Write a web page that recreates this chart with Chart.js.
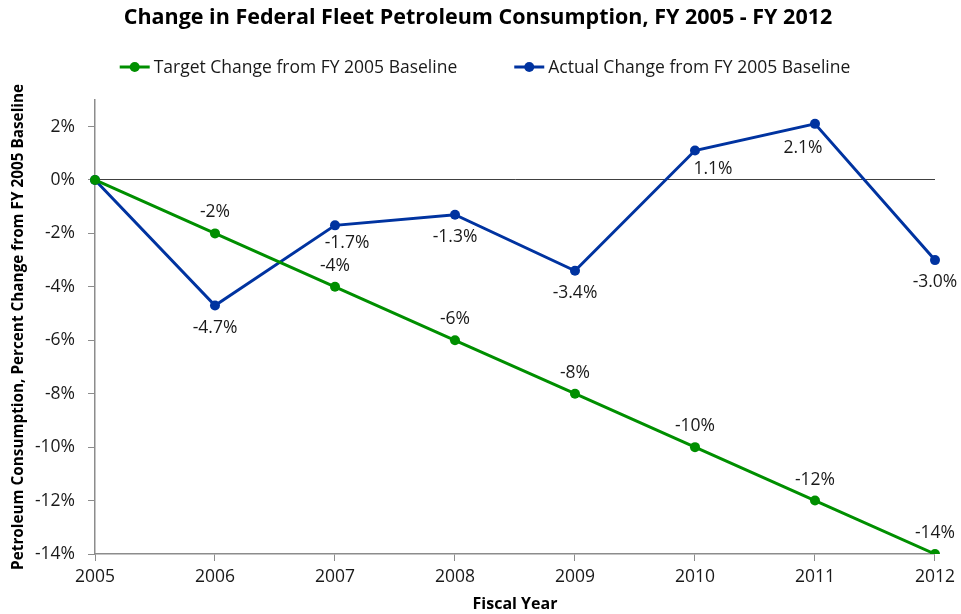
<!DOCTYPE html>
<html>
<head>
<meta charset="utf-8">
<script src="https://cdn.jsdelivr.net/npm/chart.js@4.4.0/dist/chart.umd.min.js"></script>
<style>
html, body { margin: 0; padding: 0; background: #fff; }
</style>
</head>
<body>
<canvas id="fleetChart" width="961" height="614"></canvas>
<script>
// data read from the FY 2005 - FY 2012 fleet chart
var years = ['2005', '2006', '2007', '2008', '2009', '2010', '2011', '2012'];
var targetChange = [0, -2, -4, -6, -8, -10, -12, -14];
var actualChange = [0, -4.7, -1.7, -1.3, -3.4, 1.1, 2.1, -3.0];
var yTicks = [-14, -12, -10, -8, -6, -4, -2, 0, 2];

var GREEN = '#008f00';
var BLUE = '#0033a0';
var FONT = "'Open Sans', 'DejaVu Sans', sans-serif";

// value labels next to each point (first point has none)
var pointLabels = {
    id: 'pointLabels',
    afterDatasetsDraw: function(chart) {
        var ctx = chart.ctx;
        ctx.save();
        ctx.font = '17.5px ' + FONT;
        ctx.fillStyle = '#1a1a1a';
        ctx.textAlign = 'center';
        ctx.textBaseline = 'middle';
        chart.data.datasets.forEach(function(ds, i) {
            var meta = chart.getDatasetMeta(i);
            meta.data.forEach(function(pt, j) {
                if (j === 0) return;
                var v = ds.data[j];
                var txt = ds.decimals ? v.toFixed(1) + '%' : v + '%';
                var off = (ds.labelShift && ds.labelShift[j]) || [0, ds.labelDy];
                ctx.fillText(txt, pt.x + off[0], pt.y + off[1]);
            });
        });
        ctx.restore();
    }
};

// legend: line with a dot, then text
var lineLegend = {
    id: 'lineLegend',
    afterDraw: function(chart) {
        var ctx = chart.ctx;
        ctx.save();
        ctx.font = '17.5px ' + FONT;
        ctx.textBaseline = 'middle';
        var sw = 30, gapText = 4, gapItem = 57, y = 67;
        var items = chart.data.datasets.map(function(ds) {
            return { text: ds.label, color: ds.borderColor, w: sw + gapText + ctx.measureText(ds.label).width };
        });
        var total = items.reduce(function(a, it) { return a + it.w; }, 0) + gapItem * (items.length - 1);
        var x = 485 - total / 2;
        items.forEach(function(it) {
            ctx.strokeStyle = it.color;
            ctx.lineWidth = 3;
            ctx.beginPath();
            ctx.moveTo(x, y);
            ctx.lineTo(x + sw, y);
            ctx.stroke();
            ctx.fillStyle = it.color;
            ctx.beginPath();
            ctx.arc(x + sw / 2, y, 5, 0, Math.PI * 2);
            ctx.fill();
            ctx.fillStyle = '#1a1a1a';
            ctx.textAlign = 'left';
            ctx.fillText(it.text, x + sw + gapText, y + 1);
            x += it.w + gapItem;
        });
        ctx.restore();
    }
};

var fc = document.getElementById('fleetChart').getContext('2d');
var fleetChart = new Chart(fc, {
    type: 'line',
    data: {
        labels: years,
        datasets: [{
            label: 'Target Change from FY 2005 Baseline',
            data: targetChange,
            borderColor: GREEN,
            backgroundColor: GREEN,
            borderWidth: 3,
            pointRadius: 5,
            pointBorderWidth: 0,
            decimals: false,
            labelDy: -21
        }, {
            label: 'Actual Change from FY 2005 Baseline',
            data: actualChange,
            borderColor: BLUE,
            backgroundColor: BLUE,
            borderWidth: 3,
            pointRadius: 5,
            pointBorderWidth: 0,
            decimals: true,
            labelDy: 22,
            labelShift: { 2: [12, 18], 5: [18, 18], 6: [-12, 24] }
        }]
    },
    options: {
        responsive: false,
        animation: false,
        // left padding nudges the title to the centre the reference uses
        layout: { padding: { left: 21, right: 26, top: 0, bottom: 0 } },
        plugins: {
            legend: { display: false },
            tooltip: { enabled: false },
            title: {
                display: true,
                text: 'Change in Federal Fleet Petroleum Consumption, FY 2005 - FY 2012',
                color: '#000',
                font: { family: FONT, size: 21.5, weight: 'bold' },
                padding: { top: 5, bottom: 69 }
            }
        },
        scales: {
            x: {
                type: 'category',
                offset: false,
                border: { color: '#8c8c8c', width: 1.5 },
                grid: { drawOnChartArea: false, tickColor: '#8c8c8c', tickLength: 7 },
                ticks: { color: '#1a1a1a', font: { family: FONT, size: 17.5 }, padding: 6, maxRotation: 0 },
                title: {
                    display: true,
                    text: 'Fiscal Year',
                    color: '#000',
                    font: { family: FONT, size: 16, weight: 'bold' },
                    padding: { top: 0, bottom: 0 }
                },
                afterFit: function(scale) { scale.height = 60; }
            },
            y: {
                min: -14,
                max: 3,
                border: { color: '#8c8c8c', width: 1.5 },
                grid: {
                    color: function(c) { return c.tick && c.tick.value === 0 ? '#404040' : 'rgba(0,0,0,0)'; },
                    tickColor: '#8c8c8c',
                    tickLength: 7,
                    lineWidth: 1
                },
                ticks: {
                    color: '#1a1a1a',
                    font: { family: FONT, size: 17.5 },
                    padding: 13,
                    callback: function(v) { return v + '%'; }
                },
                afterBuildTicks: function(scale) {
                    scale.ticks = yTicks.map(function(v) { return { value: v }; });
                },
                title: {
                    display: true,
                    text: 'Petroleum Consumption, Percent Change from FY 2005 Baseline',
                    color: '#000',
                    font: { family: FONT, size: 15.3, weight: 'bold' },
                    padding: { top: -12, bottom: 0 }
                },
                afterFit: function(scale) { scale.width = 74; }
            }
        }
    },
    plugins: [pointLabels, lineLegend]
});
</script>
</body>
</html>
